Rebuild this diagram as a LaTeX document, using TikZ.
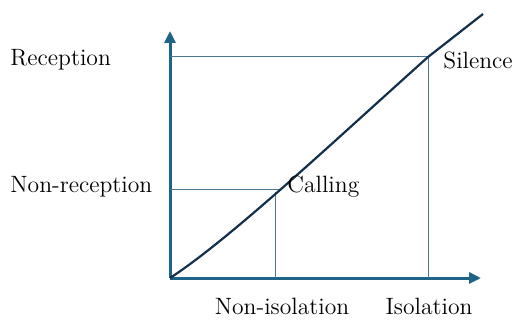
\documentclass[tikz,border=0pt]{standalone}
\usepackage{xcolor}
\usetikzlibrary{positioning, calc, arrows.meta}

\definecolor{axisblue}{HTML}{1F6387}
\definecolor{guideblue}{HTML}{4A7690}
\definecolor{curvenavy}{HTML}{12304A}

\begin{document}
\begin{tikzpicture}[
    x=0.5pt, y=0.5pt,
    lbl/.style={font=\fontsize{11.8}{14}\selectfont, inner sep=0pt},
    axis/.style={-{Triangle[length=6pt, width=5.5pt]}, line width=1.5pt, draw=axisblue},
    guide/.style={line width=0.5pt, draw=guideblue},
    curve/.style={line width=1.1pt, draw=curvenavy},
]
\useasboundingbox (0,0) rectangle (517,321);

% Axes
\coordinate (origin) at (170,43);
\coordinate (ytip) at (170,290);
\coordinate (xtip) at (481,43);
\draw[axis] (origin) -- (ytip);
\draw[axis] (origin) -- (xtip);

% Levels on the curve
\coordinate (recept) at (170,264);
\coordinate (nonrecept) at (170,132);
\coordinate (silence) at (428,264);
\coordinate (calling) at (280,132);
\coordinate (isol) at (428,43);
\coordinate (nonisol) at (275,43);
\coordinate (callfoot) at (275,129);
\coordinate (top) at (483,307);

% Guides
\draw[guide] (recept) -- (silence) -- (isol);
\draw[guide] (nonrecept) -- (calling);
\draw[guide] (callfoot) -- (nonisol);

% Curve
\draw[curve] (origin) .. controls (230,82) and (332,178) .. (silence) -- (top);

% Labels
\node[lbl, anchor=west] (reception) at (10,261) {Reception};
\node[lbl, anchor=west] (nonreception) at (10,134) {Non-reception};
\node[lbl, anchor=west] (callinglbl) at (287,134) {Calling};
\node[lbl, anchor=west] (silencelbl) at (443,261) {Silence};
\node[lbl] (nonisolation) at (282,15) {Non-isolation};
\node[lbl] (isolation) at (429,15) {Isolation};

\end{tikzpicture}
\end{document}
